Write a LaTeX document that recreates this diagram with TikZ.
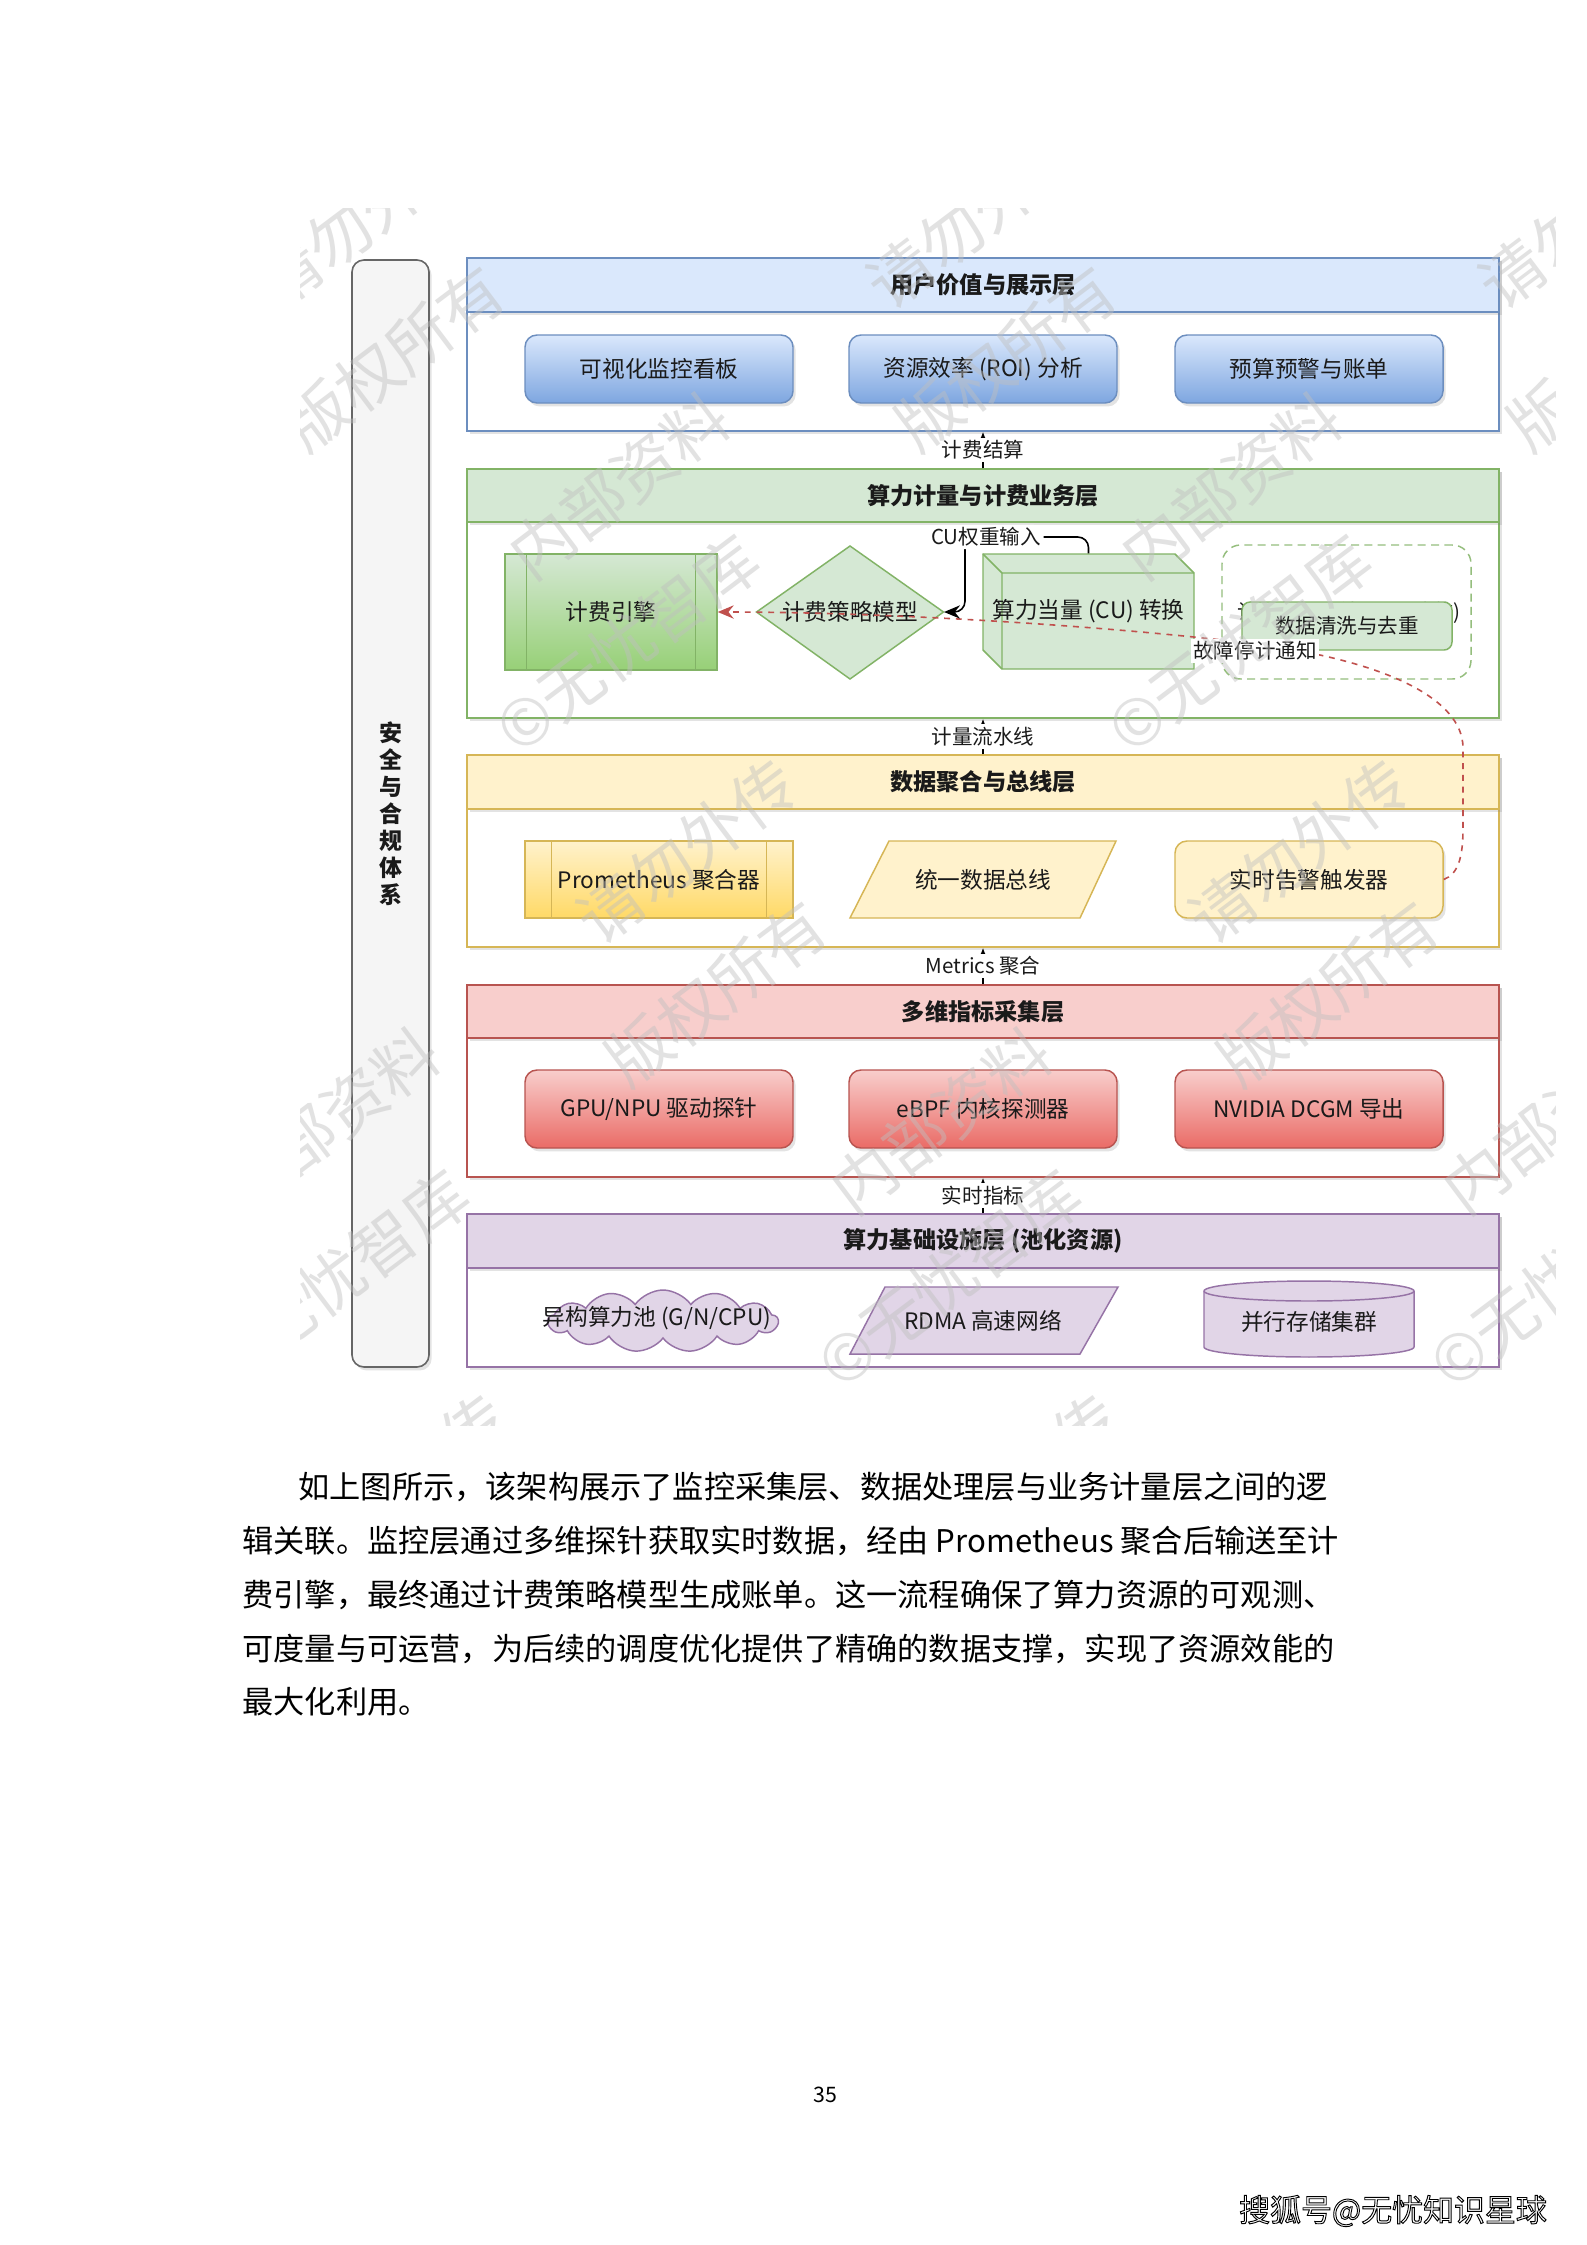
\documentclass[tikz,border=0pt]{standalone}
\usepackage{fontspec}
\setmainfont{Noto Sans CJK SC}
\newfontfamily\footfont{Noto Sans CJK SC}[FakeBold=3]
\usetikzlibrary{arrows.meta,shadows,shapes.symbols}
\XeTeXlinebreaklocale "zh"
\XeTeXlinebreakskip=0pt plus 1pt
\definecolor{bluefill}{HTML}{DAE8FC}
\definecolor{blueline}{HTML}{6C8EBF}
\definecolor{bluedeep}{HTML}{7EA6E0}
\definecolor{greenfill}{HTML}{D5E8D4}
\definecolor{greenline}{HTML}{82B366}
\definecolor{greendeep}{HTML}{97D077}
\definecolor{yellowfill}{HTML}{FFF2CC}
\definecolor{yellowline}{HTML}{D6B656}
\definecolor{yellowdeep}{HTML}{FFD966}
\definecolor{redfill}{HTML}{F8CECC}
\definecolor{redline}{HTML}{B85450}
\definecolor{reddeep}{HTML}{EA6B66}
\definecolor{purplefill}{HTML}{E1D5E7}
\definecolor{purpleline}{HTML}{9673A6}
\definecolor{barfill}{HTML}{F5F5F5}
\definecolor{barline}{HTML}{666666}
\definecolor{txt}{HTML}{1A1A1A}
\definecolor{faultred}{HTML}{C0504D}
\newcommand\PX[1]{(#1)*0.375pt}
\newcommand\titlefont{\bfseries\fontsize{8.7}{10}\selectfont}
\newcommand\boxfont{\fontsize{8.5}{10}\selectfont}
\newcommand\lblfont{\fontsize{7.7}{9}\selectfont}
\newcommand\bodyfont{\fontsize{11.7}{14}\selectfont}
\tikzset{
  shad/.style={drop shadow={opacity=0.22, shadow xshift=1pt, shadow yshift=-1.3pt}},
  panel/.style={draw=#1, fill=white, line width=0.55pt, minimum width=\PX{1032}, inner sep=0pt, shad},
  header/.style 2 args={draw=#1, fill=#2, line width=0.55pt, minimum width=\PX{1032}, inner sep=0pt, font=\titlefont, text=txt, shad},
  sbox/.style={rounded corners=4.5pt, line width=0.55pt, minimum width=\PX{268}, inner sep=0pt, font=\boxfont, text=txt, shad},
  bluebox/.style={sbox, draw=blueline, top color=bluefill, bottom color=bluedeep, minimum height=\PX{68}},
  redbox/.style={sbox, draw=redline, top color=redfill, bottom color=reddeep, minimum height=\PX{78}},
  procbox/.style={line width=0.55pt, inner sep=0pt, font=\boxfont, text=txt},
  plain/.style={inner sep=0pt, font=\boxfont, text=txt},
  lbl/.style={fill=white, inner sep=1pt, font=\lblfont, text=txt},
  layarrow/.style={draw=black, line width=0.55pt, -{Latex[length=3.5pt,width=3pt]}},
  cuedge/.style={draw=black, line width=0.6pt, rounded corners=4pt, -{Stealth[length=6pt,width=5pt,inset=2pt]}},
  faultedge/.style={draw=faultred, line width=0.6pt, dash pattern=on 2.2pt off 2.2pt, -{Stealth[length=6pt,width=5pt,inset=2pt]}},
  wm/.style={inner sep=0pt, rotate=37, text=black!25, opacity=0.45, font=\fontsize{24}{26}\selectfont},
  bodyline/.style={anchor=west, text width=413.6pt, align=justify, inner sep=0pt, font=\bodyfont, text=black},
}
% #1 name, #2 top, #3 header bottom, #4 bottom, #5 line, #6 fill, #7 title
\newcommand\mklayer[7]{%
  \node[panel=#5, minimum height=\PX{#4-#2}] (#1) at (983,{(#2+#4)/2}) {};
  \node[header={#5}{#6}, minimum height=\PX{#3-#2}] (#1h) at (983,{(#2+#3)/2}) {#7};
}
\begin{document}
\begin{tikzpicture}[x=0.375pt, y=-0.375pt]
\fill[white] (0,0) rectangle (1587,2245);
\useasboundingbox (0,0) rectangle (1587,2245);

% security bar
\node[draw=barline, fill=barfill, line width=0.6pt, rounded corners=4.5pt, minimum width=\PX{77}, minimum height=\PX{1107}, inner sep=0pt, shad, align=center, text=txt, font=\bfseries\fontsize{8.6}{10.1}\selectfont] (sec) at (390.5,813.5) {安\\全\\与\\合\\规\\体\\系};

% layers
\mklayer{L1}{258}{312}{431}{blueline}{bluefill}{用户价值与展示层}
\mklayer{L2}{469}{522}{718}{greenline}{greenfill}{算力计量与计费业务层}
\mklayer{L3}{755}{809}{947}{yellowline}{yellowfill}{数据聚合与总线层}
\mklayer{L4}{985}{1038}{1177}{redline}{redfill}{多维指标采集层}
\mklayer{L5}{1214}{1268}{1367}{purpleline}{purplefill}{算力基础设施层 (池化资源)}

% layer 1
\node[bluebox] (dash) at (659,369) {可视化监控看板};
\node[bluebox] (roi) at (983,369) {资源效率 (ROI) 分析};
\node[bluebox] (budget) at (1309,369) {预算预警与账单};

% layer 2
\node[procbox, draw=greenline, top color=greenfill, bottom color=greendeep, minimum width=\PX{212}, minimum height=\PX{116}] (engine) at (611,612) {计费引擎};
\draw[greenline, line width=0.55pt] ([xshift=\PX{22}]engine.north west) -- ([xshift=\PX{22}]engine.south west);
\draw[greenline, line width=0.55pt] ([xshift=-\PX{22}]engine.north east) -- ([xshift=-\PX{22}]engine.south east);
\draw[draw=greenline, fill=greenfill, line width=0.55pt] (850,546) -- (943.5,612) -- (850,679) -- (756.5,612) -- cycle;
\node[plain, minimum width=\PX{187}, minimum height=\PX{133}] (policy) at (850,612) {计费策略模型};
\draw[draw=greenline, fill=greenfill, line width=0.55pt] (983,554) -- (1175,554) -- (1194,573) -- (1194,669) -- (1002,669) -- (983,650) -- cycle;
\draw[greenline, line width=0.55pt] (983,554) -- (1002,573) -- (1194,573) (1002,573) -- (1002,669);
\node[plain, minimum width=\PX{211}, minimum height=\PX{115}] (cube) at (1088.5,611.5) {\raisebox{-1.5pt}{算力当量 (CU) 转换}};
\node[draw=greenline!85, line width=0.55pt, dash pattern=on 3pt off 2pt, rounded corners=7pt, minimum width=\PX{249}, minimum height=\PX{134}, inner sep=0pt] (grp) at (1346.5,612) {};
\node[plain, font=\lblfont] (grptxt) at (1349,613) {计量数据预处理 (可选的)};
\node[draw=greenline, fill=greenfill, line width=0.55pt, rounded corners=3pt, minimum width=\PX{210}, minimum height=\PX{48}, inner sep=0pt, font=\lblfont, text=txt] (clean) at (1347,626) {数据清洗与去重};

% layer 3
\node[procbox, draw=yellowline, top color=yellowfill, bottom color=yellowdeep, minimum width=\PX{268}, minimum height=\PX{77}] (prom) at (659,879.5) {Prometheus 聚合器};
\draw[yellowline, line width=0.55pt] ([xshift=\PX{27}]prom.north west) -- ([xshift=\PX{27}]prom.south west);
\draw[yellowline, line width=0.55pt] ([xshift=-\PX{27}]prom.north east) -- ([xshift=-\PX{27}]prom.south east);
\draw[draw=yellowline, fill=yellowfill, line width=0.55pt] (889,841) -- (1116,841) -- (1080,918) -- (850,918) -- cycle;
\node[plain, minimum width=\PX{230}, minimum height=\PX{77}] (bus) at (983,879.5) {统一数据总线};
\node[sbox, draw=yellowline, fill=yellowfill, minimum height=\PX{77}] (alarm) at (1309,879.5) {实时告警触发器};

% layer 4
\node[redbox] (gpu) at (659,1109) {GPU/NPU 驱动探针};
\node[redbox] (ebpf) at (983,1109) {eBPF 内核探测器};
\node[redbox] (dcgm) at (1309,1109) {NVIDIA DCGM 导出};

% layer 5
\node[cloud, cloud puffs=13, cloud puff arc=110, aspect=3.6, draw=purpleline, fill=purplefill, line width=0.55pt, minimum width=\PX{230}, minimum height=\PX{62}, inner sep=0pt] (pool) at (663,1321) {};
\node[plain] (pooltxt) at (657,1318) {异构算力池 (G/N/CPU)};
\draw[draw=purpleline, fill=purplefill, line width=0.55pt] (885,1287) -- (1118,1287) -- (1080,1354) -- (850,1354) -- cycle;
\node[plain, minimum width=\PX{230}, minimum height=\PX{67}] (rdma) at (983,1320.5) {RDMA 高速网络};
\draw[draw=purpleline, fill=purplefill, line width=0.55pt] (1204,1291) -- (1204,1347) arc[start angle=180, end angle=0, x radius=105, y radius=10] -- (1414,1291) arc[start angle=0, end angle=-180, x radius=105, y radius=10] -- cycle;
\draw[purpleline, line width=0.55pt] (1204,1291) arc[start angle=180, end angle=0, x radius=105, y radius=10];
\node[plain, minimum width=\PX{210}, minimum height=\PX{60}] (store) at (1309,1322) {并行存储集群};

% inter-layer connectors
\draw[layarrow] (L2h.north) -- node[lbl] {计费结算} (L1.south);
\draw[layarrow] (L3h.north) -- node[lbl] {计量流水线} (L2.south);
\draw[layarrow] (L4h.north) -- node[lbl] {Metrics 聚合} (L3.south);
\draw[layarrow] (L5h.north) -- node[lbl] {实时指标} (L4.south);

% fault notice (red dashed)
\draw[faultedge] (alarm.east) .. controls (1458,874) and (1463,858) .. (1463,828) -- (1463,748) .. controls (1463,697) and (1380,660) .. (1255,644) node[lbl, yshift=-2.6pt] (faultlbl) {故障停计通知} .. controls (1130,628) and (900,612) .. (engine.east);

% CU weight input
\draw[cuedge] (cube.north) -- (1088.5,537) -- node[lbl, pos=0.83] (culbl) {CU权重输入} (965,537) -- (965,612) -- (policy.east);

% watermark
\begin{scope}
\clip (300,208) rectangle (1555,1425);
\foreach \i/\j in {-1/0,0/0,1/0,-1/1,0/1,1/1,-2/2,-1/2,0/2}{
    \node[wm] (wmA\i\j) at ({613+\i*612+\j*322+185},{481+\j*635-130}) {内部资料\hspace{3em}请勿外传};
    \node[wm] (wmB\i\j) at ({613+\i*612+\j*322+193},{481+\j*635+28}) {©无忧智库\hspace{3em}版权所有};
}
\end{scope}

% body text
\node[bodyline] (p1) at (242,1487) {\parfillskip=0pt \hspace*{21pt}如上图所示，该架构展示了监控采集层、数据处理层与业务计量层之间的逻};
\node[bodyline] (p2) at (242,1541) {\parfillskip=0pt 辑关联。监控层通过多维探针获取实时数据，经由 Prometheus 聚合后输送至计};
\node[bodyline] (p3) at (242,1595) {\parfillskip=0pt 费引擎，最终通过计费策略模型生成账单。这一流程确保了算力资源的可观测、};
\node[bodyline] (p4) at (242,1649) {\parfillskip=0pt 可度量与可运营，为后续的调度优化提供了精确的数据支撑，实现了资源效能的};
\node[anchor=west, inner sep=0pt, font=\bodyfont] (p5) at (242,1702) {最大化利用。};

% page number and footer
\node[inner sep=0pt, font=\fontsize{8}{10}\selectfont] (pageno) at (825,2095) {35};
\node[inner sep=0pt, font=\footfont\fontsize{11.6}{13}\selectfont] (foot) at (1393,2211) {\color{white}\special{pdf:code 0 G}搜狐号@无忧知识星球};
\end{tikzpicture}
\end{document}
